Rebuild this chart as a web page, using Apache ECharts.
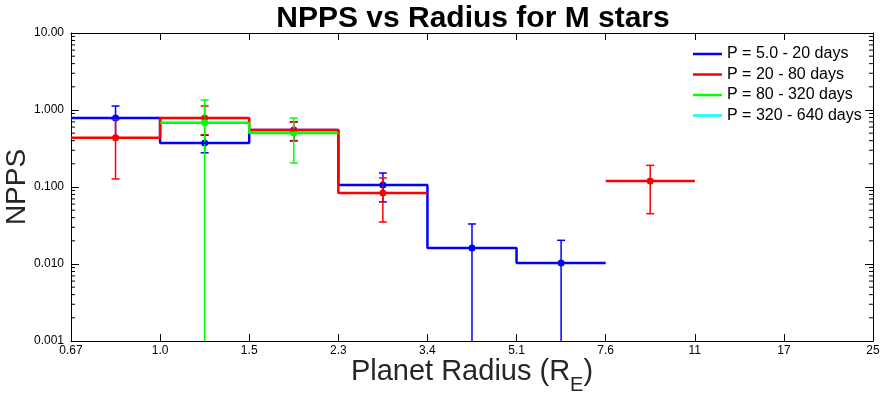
<!DOCTYPE html>
<html>
<head>
<meta charset="utf-8">
<script src="https://cdn.jsdelivr.net/npm/echarts@6/dist/echarts.min.js"></script>
<style>
  html, body { margin: 0; padding: 0; background: #fff; }
  #chart { width: 888px; height: 398px; }
</style>
</head>
<body>
<div id="chart"></div>
<script>
// bin edges in Earth radii and their printed tick labels
const xEdges = [0.6667, 1.0, 1.5, 2.25, 3.375, 5.0625, 7.594, 11.39, 17.09, 25.63]
const xTickLabels = ['0.67', '1.0', '1.5', '2.3', '3.4', '5.1', '7.6', '11', '17', '25']
const yTickValues = [0.001, 0.01, 0.1, 1, 10]
const yTickLabels = ['0.001', '0.010', '0.100', '1.000', '10.00']

const periodNames = ['P = 5.0 - 20 days', 'P = 20 - 80 days', 'P = 80 - 320 days', 'P = 320 - 640 days']
const periodColors = ['#0000ff', '#ff0000', '#00ff00', '#00ffff']

// NPPS per radius bin (null = no value), with lower / upper error ends
const bluePPS = [0.787, 0.374, 0.55, 0.106, 0.0161, 0.0103, null, null, null]
const blueLow = [0.44, 0.278, 0.40, 0.064, 0.0001, 0.0001, null, null, null]
const blueHigh = [1.127, 0.47, 0.70, 0.152, 0.0331, 0.0203, null, null, null]

const redPPS = [0.437, 0.787, 0.55, 0.0836, null, null, 0.1197, null, null]
const redLow = [0.127, 0.478, 0.396, 0.0351, null, null, 0.045, null, null]
const redHigh = [0.755, 1.127, 0.699, 0.131, null, null, 0.191, null, null]

const greenPPS = [null, 0.684, 0.503, null, null, null, null, null, null]
const greenLow = [null, 0.0001, 0.205, null, null, null, null, null, null]
const greenHigh = [null, 1.349, 0.787, null, null, null, null, null, null]

const cyanPPS = [null, null, null, null, null, null, null, null, null]
const cyanLow = cyanPPS
const cyanHigh = cyanPPS

const groups = [
  [bluePPS, blueLow, blueHigh],
  [redPPS, redLow, redHigh],
  [greenPPS, greenLow, greenHigh],
  [cyanPPS, cyanLow, cyanHigh]
]

const FONT = 'Liberation Sans, Arial, Helvetica, sans-serif'

// step outline of a histogram, broken where bins are empty
const stepPoints = (vals) => {
  const pts = []
  vals.forEach((v, k) => {
    if (v == null) return
    if (k > 0 && vals[k - 1] == null && pts.length) pts.push([xEdges[k], '-'])
    pts.push([xEdges[k], v])
    pts.push([xEdges[k + 1], v])
  })
  return pts
}

const errPoints = (vals, lo, hi) => {
  const pts = []
  vals.forEach((v, k) => {
    if (v == null) return
    pts.push([Math.sqrt(xEdges[k] * xEdges[k + 1]), lo[k], hi[k], v])
  })
  return pts
}

const errRender = (color) => (params, api) => {
  const x = api.value(0)
  const lo = api.coord([x, api.value(1)])
  const hi = api.coord([x, api.value(2)])
  const mid = api.coord([x, api.value(3)])
  const cw = 4
  const st = { stroke: color, lineWidth: 1.5 }
  return {
    type: 'group',
    children: [
      { type: 'line', shape: { x1: hi[0], y1: hi[1], x2: lo[0], y2: lo[1] }, style: st },
      { type: 'line', shape: { x1: hi[0] - cw, y1: hi[1], x2: hi[0] + cw, y2: hi[1] }, style: st },
      { type: 'line', shape: { x1: lo[0] - cw, y1: lo[1], x2: lo[0] + cw, y2: lo[1] }, style: st },
      { type: 'circle', shape: { cx: mid[0], cy: mid[1], r: 3.5 }, style: { fill: color } }
    ]
  }
}

// minor ticks of the log y axis (2..9 in each decade)
const minorData = []
yTickValues.slice(0, -1).forEach((d) => {
  for (let m = 2; m <= 9; m++) minorData.push([xEdges[0], m * d])
})

const series = []
groups.forEach((g, i) => {
  series.push({
    name: periodNames[i],
    type: 'line',
    data: stepPoints(g[0]),
    showSymbol: false,
    symbol: 'none',
    connectNulls: false,
    lineStyle: { color: periodColors[i], width: 2.5 },
    itemStyle: { color: periodColors[i] },
    emphasis: { disabled: true },
    animation: false
  })
  series.push({
    name: periodNames[i],
    type: 'custom',
    clip: true,
    data: errPoints(g[0], g[1], g[2]),
    encode: { x: 0, y: [1, 2, 3] },
    renderItem: errRender(periodColors[i]),
    animation: false
  })
})
series.push({
  type: 'custom',
  data: minorData,
  encode: { x: 0, y: 1 },
  silent: true,
  renderItem: (params, api) => {
    const p = api.coord([xEdges[0], api.value(1)])
    const q = api.coord([xEdges[xEdges.length - 1], api.value(1)])
    const st = { stroke: '#000', lineWidth: 1 }
    return {
      type: 'group',
      children: [
        { type: 'line', shape: { x1: p[0], y1: p[1], x2: p[0] + 4, y2: p[1] }, style: st },
        { type: 'line', shape: { x1: q[0] - 4, y1: q[1], x2: q[0], y2: q[1] }, style: st }
      ]
    }
  },
  animation: false
})

const xLabel = (v) => {
  let best = 0
  xEdges.forEach((e, i) => {
    if (Math.abs(Math.log(e / v)) < Math.abs(Math.log(xEdges[best] / v))) best = i
  })
  return xTickLabels[best]
}
const yLabel = (v) => {
  let best = 0
  yTickValues.forEach((e, i) => {
    if (Math.abs(Math.log(e / v)) < Math.abs(Math.log(yTickValues[best] / v))) best = i
  })
  return yTickLabels[best]
}

const baseX = {
  type: 'log',
  logBase: 1.5,
  min: xEdges[0],
  max: xEdges[xEdges.length - 1],
  splitNumber: 9,
  splitLine: { show: false },
  axisLine: { lineStyle: { color: '#000', width: 1 } },
  axisTick: { inside: true, length: 7, lineStyle: { color: '#000' } }
}
const baseY = {
  type: 'log',
  logBase: 10,
  min: 0.001,
  max: 10,
  splitLine: { show: false },
  axisLine: { show: true, lineStyle: { color: '#000', width: 1 } },
  axisTick: { inside: true, length: 8, lineStyle: { color: '#000' } }
}

const chart = echarts.init(document.getElementById('chart'))
chart.setOption({
  backgroundColor: '#fff',
  animation: false,
  title: {
    text: 'NPPS vs Radius for M stars',
    left: 473,
    textAlign: 'center',
    top: 4,
    padding: 0,
    textStyle: { fontFamily: FONT, fontSize: 30, fontWeight: 'bold', color: '#000' }
  },
  legend: {
    orient: 'vertical',
    left: 693,
    top: 46,
    padding: 0,
    itemGap: 4.5,
    itemWidth: 29,
    itemHeight: 2.5,
    icon: 'rect',
    data: periodNames,
    textStyle: { fontFamily: FONT, fontSize: 16, color: '#000', lineHeight: 16 }
  },
  grid: { left: 71, right: 15, top: 33, bottom: 57, containLabel: false, outerBoundsMode: 'none' },
  xAxis: [
    Object.assign({}, baseX, {
      position: 'bottom',
      axisLabel: { formatter: xLabel, fontFamily: FONT, fontSize: 12, color: '#000', margin: 4 },
      name: '{a|Planet Radius (R}{b|E}{a|)}',
      nameLocation: 'middle',
      nameGap: 16,
      nameMoveOverlap: false,
      nameTextStyle: {
        rich: {
          a: { fontFamily: FONT, fontSize: 29, color: '#262626', lineHeight: 30, verticalAlign: 'top' },
          b: { fontFamily: FONT, fontSize: 20, color: '#262626', lineHeight: 38, verticalAlign: 'bottom' }
        }
      }
    }),
    Object.assign({}, baseX, { position: 'top', axisLabel: { show: false } })
  ],
  yAxis: [
    Object.assign({}, baseY, {
      position: 'left',
      axisLabel: { formatter: yLabel, fontFamily: FONT, fontSize: 12, color: '#000', margin: 7 },
      name: 'NPPS',
      nameLocation: 'middle',
      nameGap: 40,
      nameMoveOverlap: false,
      nameTextStyle: { fontFamily: FONT, fontSize: 28, color: '#262626' }
    }),
    Object.assign({}, baseY, { position: 'right', axisLabel: { show: false } })
  ],
  series: series
})
</script>
</body>
</html>
